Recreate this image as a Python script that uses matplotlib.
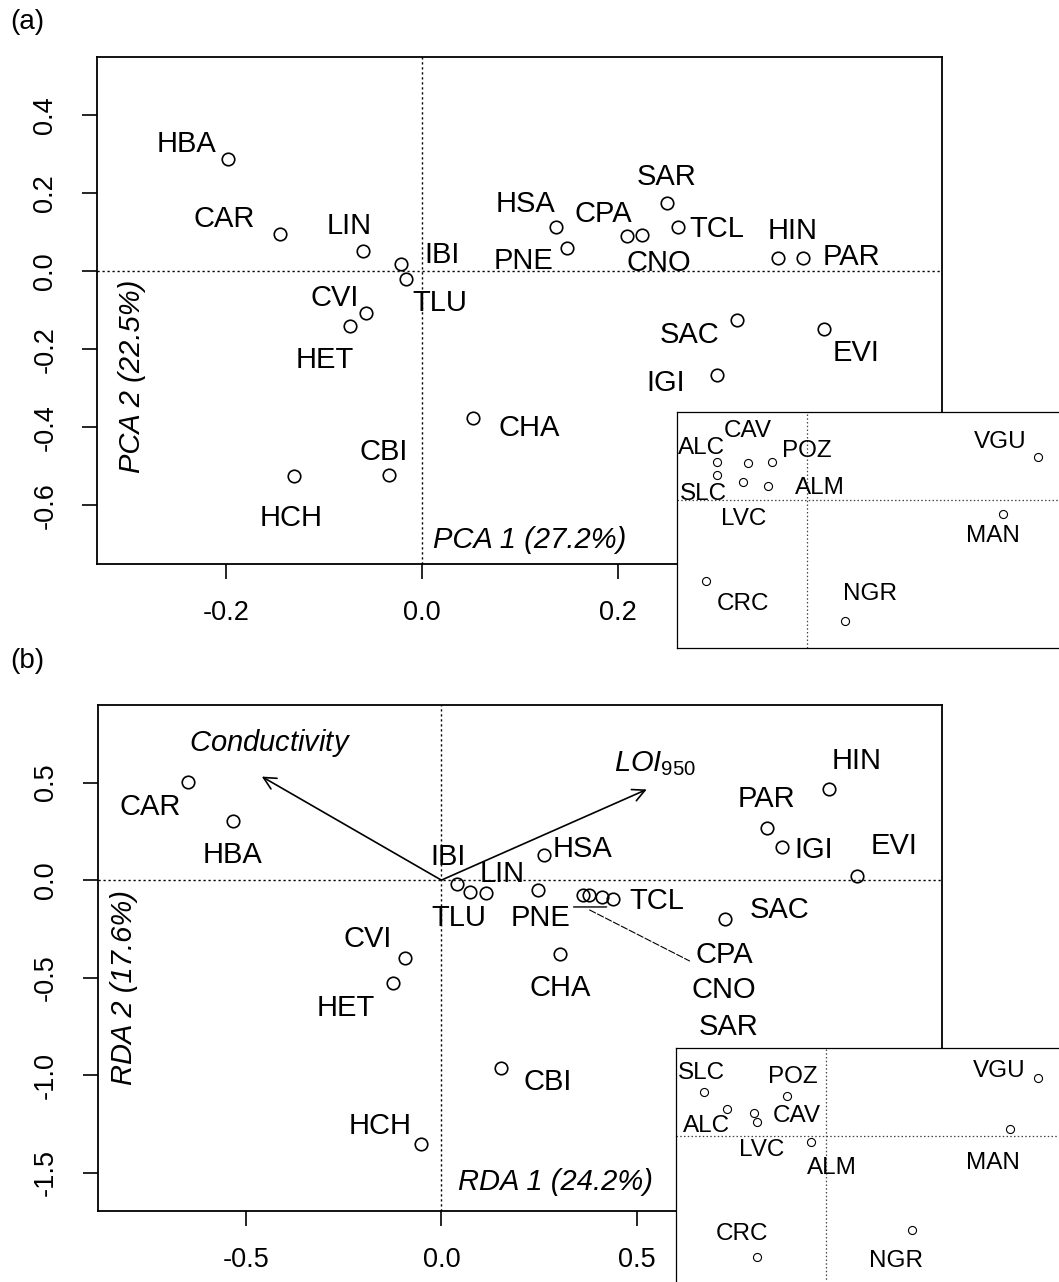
import matplotlib
matplotlib.use('Agg')
import matplotlib.pyplot as plt
from matplotlib.transforms import offset_copy

plt.rcParams['font.family'] = ['Liberation Sans', 'DejaVu Sans']
plt.rcParams['mathtext.fontset'] = 'custom'
plt.rcParams['mathtext.it'] = 'Liberation Sans:italic'
plt.rcParams['mathtext.rm'] = 'Liberation Sans'

# ---------------- data ----------------
sites = ['HBA', 'CAR', 'LIN', 'IBI', 'TLU', 'CVI', 'HET', 'HCH', 'CBI', 'CHA', 'HSA',
         'PNE', 'CPA', 'CNO', 'SAR', 'TCL', 'HIN', 'PAR', 'SAC', 'EVI', 'IGI']
pca1 = [-0.198, -0.145, -0.060, -0.022, -0.016, -0.057, -0.074, -0.131, -0.034, 0.052, 0.137,
        0.148, 0.209, 0.225, 0.250, 0.262, 0.364, 0.389, 0.322, 0.411, 0.301]
pca2 = [0.288, 0.095, 0.053, 0.020, -0.020, -0.107, -0.140, -0.524, -0.522, -0.375, 0.114,
        0.061, 0.092, 0.094, 0.176, 0.113, 0.034, 0.034, -0.124, -0.147, -0.265]
rda1 = [-0.532, -0.647, 0.114, 0.041, 0.073, -0.094, -0.123, -0.052, 0.152, 0.303, 0.262,
        0.248, 0.361, 0.378, 0.410, 0.440, 0.992, 0.833, 0.725, 1.062, 0.870]
rda2 = [0.305, 0.501, -0.067, -0.021, -0.062, -0.401, -0.526, -1.353, -0.965, -0.378, 0.129,
        -0.050, -0.076, -0.076, -0.084, -0.096, 0.466, 0.266, -0.199, 0.022, 0.172]

inset_sites = ['ALC', 'CAV', 'POZ', 'SLC', 'LVC', 'ALM', 'VGU', 'MAN', 'CRC', 'NGR']
inset_pca1 = [-0.794, -0.518, -0.309, -0.794, -0.564, -0.344, 2.042, 1.731, -0.888, 0.338]
inset_pca2 = [0.332, 0.329, 0.332, 0.218, 0.156, 0.126, 0.382, -0.126, -0.712, -1.067]
inset_rda1 = [-0.870, -0.632, -0.341, -1.073, -0.606, -0.132, 1.872, 1.623, -0.611, 0.756]
inset_rda2 = [0.235, 0.203, 0.353, 0.383, 0.123, -0.053, 0.511, 0.059, -1.067, -0.832]

env_names = ['Conductivity', 'LOI950']
env_rda1 = [-0.459, 0.525]
env_rda2 = [0.531, 0.465]

pca_xticks = [-0.2, 0.0, 0.2, 0.4]
pca_xticklabels = ['-0.2', '0.0', '0.2', '0.4']
pca_yticks = [-0.6, -0.4, -0.2, 0.0, 0.2, 0.4]
pca_yticklabels = ['-0.6', '-0.4', '-0.2', '0.0', '0.2', '0.4']
rda_xticks = [-0.5, 0.0, 0.5, 1.0]
rda_xticklabels = ['-0.5', '0.0', '0.5', '1.0']
rda_yticks = [-1.5, -1.0, -0.5, 0.0, 0.5]
rda_yticklabels = ['-1.5', '-1.0', '-0.5', '0.0', '0.5']

# ---------------- layout (label offsets in image pixels: dx right, dy down) ----------------
off_pca = {'HBA': (-42, -18), 'CAR': (-56, -18), 'LIN': (-14, -28), 'IBI': (41, -12),
           'TLU': (33, 21), 'CVI': (-32, -18), 'HET': (-25, 31), 'HCH': (-3, 39),
           'CBI': (-5, -26), 'CHA': (56, 7), 'HSA': (-31, -26), 'PNE': (-43, 10),
           'CPA': (-23, -25), 'CNO': (17, 25), 'SAR': (0, -29), 'TCL': (38, -1),
           'HIN': (14, -30), 'PAR': (49, -4), 'SAC': (-48, 12), 'EVI': (32, 21),
           'IGI': (-51, 5)}
off_rda = {'HBA': (-1, 31), 'CAR': (-38, 22), 'LIN': (16, -22), 'IBI': (-9, -30),
           'TLU': (-11, 23), 'CVI': (-37, -22), 'HET': (-47, 22), 'HCH': (-41, -21),
           'CBI': (47, 11), 'CHA': (0, 31), 'HSA': (39, -9), 'PNE': (2, 25),
           'CPA': (142, 57), 'CNO': (135, 92), 'SAR': (127, 127), 'TCL': (43, -1),
           'HIN': (27, -31), 'PAR': (-1, -32), 'SAC': (55, -12), 'EVI': (37, -33),
           'IGI': (32, 0)}
off_inset_pca = {'ALC': (-15, -17), 'CAV': (0, -34), 'POZ': (35, -14), 'SLC': (-13, 16),
                 'LVC': (1, 34), 'ALM': (52, 0), 'VGU': (-38, -17), 'MAN': (-10, 19),
                 'CRC': (37, 21), 'NGR': (25, -30)}
off_inset_rda = {'ALC': (-21, 14), 'CAV': (42, 1), 'POZ': (5, -21), 'SLC': (-3, -22),
                 'LVC': (4, 26), 'ALM': (21, 24), 'VGU': (-39, -9), 'MAN': (-17, 31),
                 'CRC': (-15, -25), 'NGR': (-16, 28)}

FW, FH = 1059, 1282
fig = plt.figure(figsize=(FW / 100, FH / 100), dpi=100)


def rect(l, t, r, b):
    return [l / FW, 1 - b / FH, (r - l) / FW, (b - t) / FH]


LABEL_FS = 21
TICK_FS = 19.5
INSET_FS = 17.5
DOT = (0, (1.6, 2.0))


def style_main(ax, xticks, xtl, yticks, ytl):
    for s in ax.spines.values():
        s.set_linewidth(1.3)
    ax.set_xticks(xticks)
    ax.set_xticklabels(xtl)
    ax.set_yticks(yticks)
    ax.set_yticklabels(ytl)
    ax.tick_params(direction='out', length=11, width=1.2, labelsize=TICK_FS)
    ax.tick_params(axis='x', pad=15)
    ax.tick_params(axis='y', pad=17)
    for t in ax.get_yticklabels():
        t.set_rotation(90)
        t.set_va('center')
    ax.axhline(0, color='black', lw=1.0, ls=DOT, zorder=1)
    ax.axvline(0, color='black', lw=1.0, ls=DOT, zorder=1)


def label_points(ax, xs, ys, names, offs, fs, corr):
    for x, y, n in zip(xs, ys, names):
        dx, dy = offs[n]
        ax.annotate(n, (x, y), xytext=(dx, -dy - corr), textcoords='offset pixels',
                    ha='center', va='center', fontsize=fs, zorder=4)


def make_inset(rc, xs, ys, names, offs, xlim, ylim):
    ax = fig.add_axes(rc, zorder=5)
    ax.set_facecolor('white')
    ax.set_xlim(*xlim)
    ax.set_ylim(*ylim)
    ax.set_xticks([])
    ax.set_yticks([])
    for s in ax.spines.values():
        s.set_linewidth(0.9)
    ax.axhline(0, color='#444444', lw=0.9, ls=(0, (1.2, 1.8)), zorder=1)
    ax.axvline(0, color='#444444', lw=0.9, ls=(0, (1.2, 1.8)), zorder=1)
    ax.plot(xs, ys, 'o', ms=5.8, mfc='none', mec='black', mew=0.8, zorder=3)
    label_points(ax, xs, ys, names, offs, INSET_FS, 2.5)
    return ax


# ---------------- panel (a) ----------------
axa = fig.add_axes(rect(97.3, 57.3, 941.7, 564))
axa.set_xlim(-0.332, 0.531)
axa.set_ylim(-0.750, 0.549)
style_main(axa, pca_xticks, pca_xticklabels, pca_yticks, pca_yticklabels)
axa.plot(pca1, pca2, 'o', ms=9, mfc='none', mec='black', mew=1.2, zorder=3)
label_points(axa, pca1, pca2, sites, off_pca, LABEL_FS, 3)
axa.text(0.011, -0.688, 'PCA 1 (27.2%)', style='italic', fontsize=LABEL_FS,
         ha='left', va='center')
axa.text(-0.297, -0.022, 'PCA 2 (22.5%)', style='italic', fontsize=LABEL_FS,
         ha='center', va='top', rotation=90)
fig.text(10 / FW, 1 - 22 / FH, '(a)', fontsize=20, ha='left', va='center')

make_inset(rect(677, 412, 1071, 648), inset_pca1, inset_pca2, inset_sites, off_inset_pca,
           (-1.144, 2.331), (-1.305, 0.776))

# ---------------- panel (b) ----------------
axb = fig.add_axes(rect(97.5, 705, 941.7, 1210.7))
axb.set_xlim(-0.879, 1.279)
axb.set_ylim(-1.695, 0.898)
style_main(axb, rda_xticks, rda_xticklabels, rda_yticks, rda_yticklabels)
axb.plot(rda1, rda2, 'o', ms=9, mfc='none', mec='black', mew=1.2, zorder=3)
label_points(axb, rda1, rda2, sites, off_rda, LABEL_FS, 3)

# leader line for the crowded CPA/CNO/SAR group
i_cpa = sites.index('CPA')
cx, cy = rda1[i_cpa], rda2[i_cpa]
def tr(dx, dy):
    return offset_copy(axb.transData, fig=fig, x=dx, y=-dy, units='dots')
axb.annotate('', xy=(cx, cy), xycoords=tr(24, 12), xytext=(cx, cy), textcoords=tr(-9, 12),
             arrowprops=dict(arrowstyle='-', lw=1.0, color='black', shrinkA=0, shrinkB=0))
axb.annotate('', xy=(cx, cy), xycoords=tr(107, 66), xytext=(cx, cy), textcoords=tr(7, 15),
             arrowprops=dict(arrowstyle='-', lw=0.8, color='black', ls=(0, (6, 2)),
                             shrinkA=0, shrinkB=0))

# environmental arrows
env_labels = {'Conductivity': r'$\mathit{Conductivity}$',
              'LOI950': r'$\mathit{LOI}_{\mathit{950}}$'}
env_label_off = {'Conductivity': (8, -34), 'LOI950': (8, -26)}
for n, ex, ey in zip(env_names, env_rda1, env_rda2):
    axb.annotate('', xy=(ex, ey), xytext=(0, 0),
                 arrowprops=dict(arrowstyle='->', lw=1.2, color='black',
                                 mutation_scale=22, shrinkA=0, shrinkB=0), zorder=2)
    dx, dy = env_label_off[n]
    axb.annotate(env_labels[n], (ex, ey), xytext=(dx, -dy), textcoords='offset pixels',
                 ha='center', va='center', fontsize=LABEL_FS, zorder=4)

axb.text(0.0425, -1.546, 'RDA 1 (24.2%)', style='italic', fontsize=LABEL_FS,
         ha='left', va='center')
axb.text(-0.81, -0.05, 'RDA 2 (17.6%)', style='italic', fontsize=LABEL_FS,
         ha='center', va='top', rotation=90)
fig.text(10 / FW, 1 - 661 / FH, '(b)', fontsize=20, ha='left', va='center')

make_inset(rect(676, 1048.3, 1070, 1284), inset_rda1, inset_rda2, inset_sites, off_inset_rda,
           (-1.323, 2.152), (-1.308, 0.771))

fig.savefig('out.png', dpi=100)
